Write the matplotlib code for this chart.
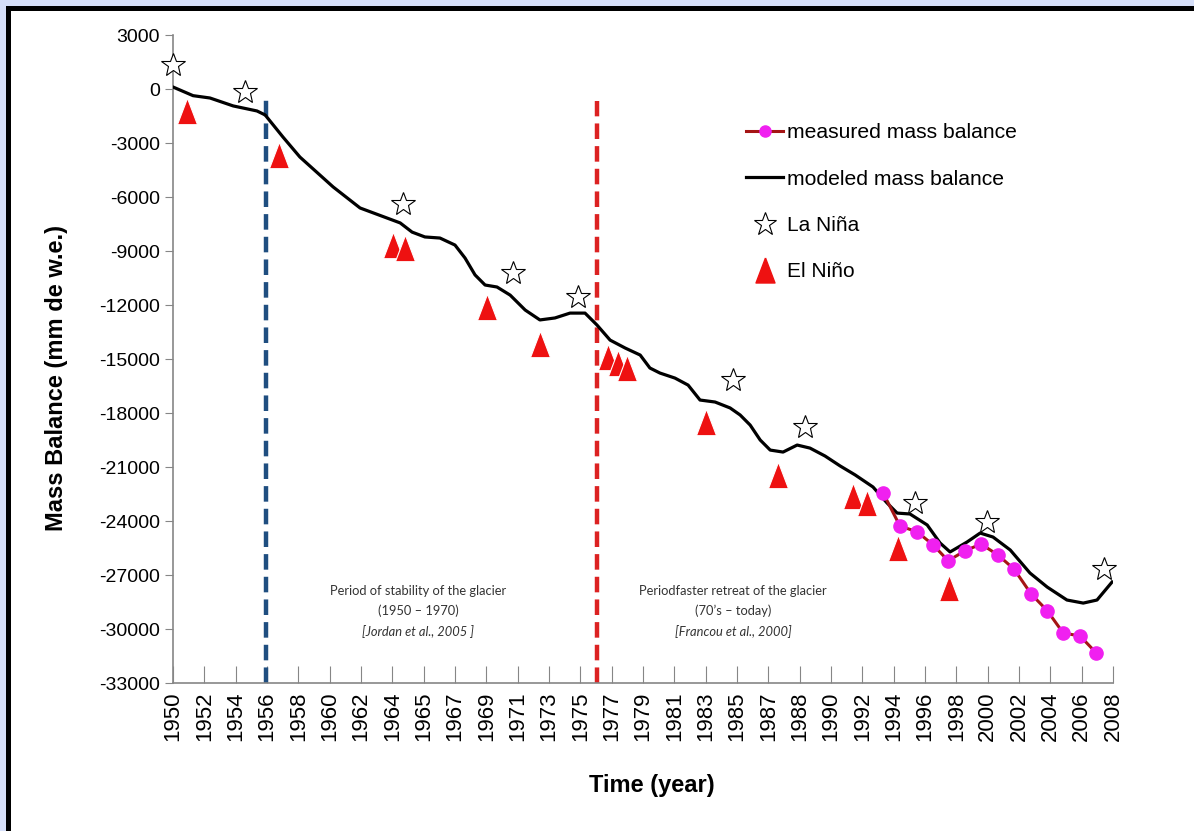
import numpy as np
import matplotlib
matplotlib.use("Agg")
import matplotlib.pyplot as plt
from matplotlib.lines import Line2D
from matplotlib.patches import Rectangle

plt.rcParams['font.family'] = ['Liberation Sans', 'DejaVu Sans']
plt.rcParams['axes.unicode_minus'] = False

# category axis labels (Excel-style, one per position)
year_labels = ['1950', '1952', '1954', '1956', '1958', '1960', '1962', '1964', '1965',
               '1967', '1969', '1971', '1973', '1975', '1977', '1979', '1981', '1983',
               '1985', '1987', '1988', '1990', '1992', '1994', '1996', '1998', '2000',
               '2002', '2004', '2006', '2008']

# modeled mass balance (position on time axis, mm w.e.)
mod_t = [0.00, 0.64, 1.18, 1.92, 2.68, 2.94, 3.51, 4.05, 5.11, 5.97, 7.25, 7.63, 8.04,
         8.52, 9.00, 9.32, 9.64, 9.96, 10.34, 10.76, 11.24, 11.71, 12.19, 12.67, 13.15,
         13.53, 13.95, 14.43, 14.91, 15.22, 15.54, 16.02, 16.44, 16.82, 17.30, 17.78,
         18.10, 18.42, 18.74, 19.06, 19.47, 19.92, 20.33, 20.81, 21.29, 21.77, 22.34,
         22.79, 23.11, 23.52, 24.07, 24.48, 24.80, 25.34, 25.76, 26.17, 26.72, 27.35,
         27.90, 28.53, 29.05, 29.49, 29.97]
mod_mb = [110, -370, -500, -940, -1220, -1440, -2670, -3780, -5440, -6610, -7440, -7950,
          -8220, -8280, -8670, -9390, -10330, -10890, -11000, -11450, -12280, -12830,
          -12720, -12450, -12450, -13110, -13950, -14390, -14780, -15500, -15780, -16060,
          -16450, -17280, -17390, -17720, -18110, -18670, -19500, -20060, -20170, -19780,
          -19950, -20390, -20940, -21440, -22110, -23000, -23560, -23610, -24220, -25220,
          -25720, -25170, -24670, -24890, -25610, -26890, -27670, -28390, -28560, -28390,
          -27390]

# measured mass balance
meas_t = [22.66, 23.20, 23.75, 24.26, 24.74, 25.28, 25.79, 26.33, 26.84, 27.39, 27.90,
          28.41, 28.95, 29.46]
meas_mb = [-22430, -24280, -24600, -25330, -26210, -25650, -25280, -25890, -26670,
           -28060, -28980, -30220, -30390, -31320]

# La Nina events
nina_t = [0.00, 2.30, 7.34, 10.85, 12.93, 17.87, 20.17, 23.68, 25.98, 29.72]
nina_mb = [1330, -170, -6390, -10220, -11560, -16170, -18780, -23000, -24060, -26670]

# El Nino events
nino_t = [0.45, 3.38, 7.02, 7.40, 10.02, 11.71, 13.88, 14.20, 14.49, 17.01, 19.31,
          21.70, 22.15, 23.14, 24.77]
nino_mb = [-1220, -3670, -8670, -8830, -12110, -14170, -14890, -15220, -15500, -18500,
           -21440, -22610, -23000, -25500, -27720]

stability_end = 2.97
retreat_start = 13.53

tri = [(0, 1), (-0.76, -1), (0.76, -1), (0, 1)]

fig = plt.figure(figsize=(11.94, 8.31), dpi=100)
fig.patch.set_facecolor('#d6dff9')
W, H = 1194.0, 831.0
fig.add_artist(Rectangle((6 / W, 0), 1, (H - 6) / H, transform=fig.transFigure,
                         facecolor='black', edgecolor='none', zorder=-10))
fig.add_artist(Rectangle((11 / W, 0), 1, (H - 11) / H, transform=fig.transFigure,
                         facecolor='white', edgecolor='none', zorder=-9))

ax = fig.add_axes([173 / W, 1 - 683 / H, 940 / W, 648 / H])
ax.set_facecolor('none')

ax.axvline(stability_end, ymin=0, ymax=0.906, color='#1f4e80', lw=3.2,
           linestyle=(0, (3.5, 1.6)), zorder=2)
ax.axvline(retreat_start, ymin=0, ymax=0.898, color='#dc2222', lw=3.2,
           linestyle=(0, (3.5, 1.6)), zorder=2)

ax.plot(mod_t, mod_mb, color='black', lw=2.3, zorder=4)
ax.plot(meas_t, meas_mb, color='#a51515', lw=2.2, marker='o', ms=9.5,
        mfc='#f020f0', mec='#f020f0', zorder=5)
ax.plot(nina_t, nina_mb, linestyle='none', marker='*', ms=18, mfc='white',
        mec='black', mew=0.8, zorder=6, clip_on=False)
ax.plot(nino_t, nino_mb, linestyle='none', marker=tri, ms=19, mfc='#ee1111',
        mec='white', mew=0.8, zorder=6)

ax.set_xlim(0, 30)
ax.set_ylim(-33000, 3000)
ax.set_xticks(np.arange(len(year_labels)))
ax.set_xticklabels(year_labels, rotation=90, fontsize=16)
ax.set_yticks(np.arange(-33000, 3001, 3000))
ax.tick_params(axis='y', labelsize=14, length=6, color='#868686', direction='out')
ax.tick_params(axis='x', length=12, color='#868686', direction='in', pad=6)

for s in ['top', 'right']:
    ax.spines[s].set_visible(False)
for s in ['left', 'bottom']:
    ax.spines[s].set_color('#868686')
    ax.spines[s].set_linewidth(1.2)

ax.set_ylabel('Mass Balance (mm de w.e.)', fontsize=17, fontweight='bold')
ax.yaxis.set_label_coords(-0.112, 0.47)
ax.set_xlabel('Time (year)', fontsize=17, fontweight='bold')
ax.xaxis.set_label_coords(0.509, -0.14)

note = dict(family=['Lato', 'DejaVu Sans'], fontsize=9.3, ha='center', va='center',
            color='#333333')
ax.text(7.82, -27890, 'Period of stability of the glacier', **note)
ax.text(7.82, -29000, '(1950 \u2013 1970)', **note)
ax.text(7.82, -30170, '[Jordan et al., 2005 ]', style='italic', **note)
ax.text(17.87, -27890, 'Periodfaster retreat of the glacier', **note)
ax.text(17.87, -29000, '(70\u2019s \u2013 today)', **note)
ax.text(17.87, -30170, '[Francou et al., 2000]', style='italic', **note)

handles = [
    Line2D([], [], color='#a51515', lw=2.2, marker='o', ms=8, mfc='#f020f0', mec='#f020f0'),
    Line2D([], [], color='black', lw=2.3),
    Line2D([], [], linestyle='none', marker='*', ms=17, mfc='white', mec='black', mew=0.8),
    Line2D([], [], linestyle='none', marker=tri, ms=18, mfc='#ee1111', mec='#ee1111'),
]
labels = ['measured mass balance', 'modeled mass balance', 'La Ni\u00f1a', 'El Ni\u00f1o']
leg = ax.legend(handles, labels, loc='upper left', bbox_to_anchor=(0.61, 0.864),
                frameon=False, fontsize=15.2, handlelength=1.75, handletextpad=0.15,
                labelspacing=1.3, borderpad=0, borderaxespad=0, numpoints=1)
for t in leg.get_texts()[2:]:
    t.set_fontsize(15)

fig.savefig('out.png', dpi=100)
